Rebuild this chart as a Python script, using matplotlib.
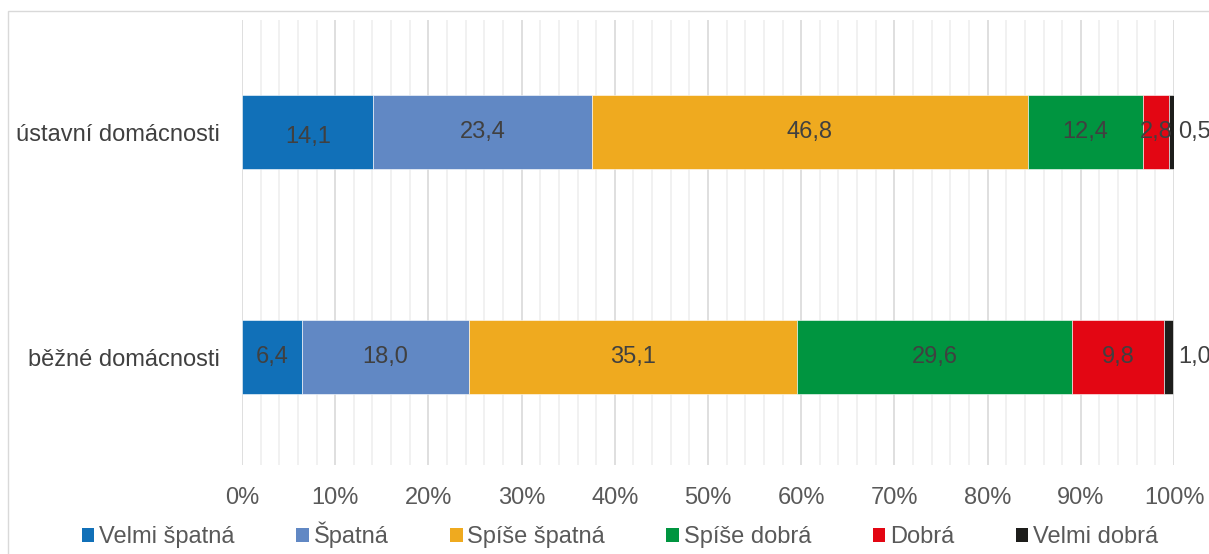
import matplotlib
matplotlib.use("Agg")
import matplotlib.pyplot as plt
from matplotlib.patches import Patch, Rectangle
from matplotlib.ticker import MultipleLocator, FuncFormatter

plt.rcParams['font.family'] = ['Liberation Sans', 'DejaVu Sans']

categories = ["běžné domácnosti", "ústavní domácnosti"]
series_names = ["Velmi špatná", "Špatná", "Spíše špatná", "Spíše dobrá", "Dobrá", "Velmi dobrá"]
values = {
    "Velmi špatná": [6.4, 14.1],
    "Špatná": [18.0, 23.4],
    "Spíše špatná": [35.1, 46.8],
    "Spíše dobrá": [29.6, 12.4],
    "Dobrá": [9.8, 2.8],
    "Velmi dobrá": [1.0, 0.5],
}
colors = ["#1170B8", "#6188C4", "#EFAA1F", "#009540", "#E30613", "#1D1D1B"]

FS = 17
W, H = 1209, 554
fig = plt.figure(figsize=(W / 100, H / 100), dpi=100)
fig.patches.append(Rectangle((8 / W, -0.1), 1.2, 1 - 11 / H + 0.1, transform=fig.transFigure,
                             fill=False, edgecolor="#d9d9d9", linewidth=1.0))
ax = fig.add_axes([242 / W, 1 - 465 / H, (1174 - 242) / W, (465 - 20) / H])

ypos = list(range(len(categories)))
left = [0.0] * len(categories)
for i, name in enumerate(series_names):
    vals = values[name]
    ax.barh(ypos, vals, left=left, height=0.33, color=colors[i],
            edgecolor="white", linewidth=0.4, zorder=3)
    for j, v in enumerate(vals):
        txt = f"{v:.1f}".replace(".", ",")
        if i == len(series_names) - 1:
            ax.text(100.45, ypos[j], txt, ha="left", va="center",
                    fontsize=FS, color="#404040", zorder=4, clip_on=False)
        else:
            dy = -0.022 if (i == 0 and j == 1) else 0.0
            ax.text(left[j] + v / 2, ypos[j] + dy, txt, ha="center",
                    va="center", fontsize=FS, color="#404040", zorder=4)
    left = [l + v for l, v in zip(left, vals)]

ax.set_xlim(0, 100)
ax.set_ylim(-0.48, 1.498)
ax.set_yticks(ypos)
ax.set_yticklabels(categories, fontsize=FS, color="#404040")
ax.xaxis.set_major_locator(MultipleLocator(10))
ax.xaxis.set_minor_locator(MultipleLocator(2))
ax.xaxis.set_major_formatter(FuncFormatter(lambda x, p: f"{int(round(x))}%"))
ax.tick_params(axis="x", which="both", length=0, labelsize=FS, labelcolor="#595959", pad=16)
ax.tick_params(axis="y", length=0, pad=16)
ax.grid(axis="x", which="major", color="#d9d9d9", linewidth=1.2, zorder=0)
ax.grid(axis="x", which="minor", color="#efefef", linewidth=1.2, zorder=0)
ax.set_axisbelow(True)
for s in ax.spines.values():
    s.set_visible(False)

handles = [Patch(facecolor=c, edgecolor="none") for c in colors]
fig.legend(handles, series_names, loc="center", bbox_to_anchor=(620 / W, 1 - 535 / H),
           ncol=6, frameon=False, fontsize=FS, labelcolor="#595959",
           handlelength=0.54, handleheight=0.54, handletextpad=0.2, columnspacing=2.6,
           borderpad=0, borderaxespad=0)

fig.savefig("out.png", dpi=100)
